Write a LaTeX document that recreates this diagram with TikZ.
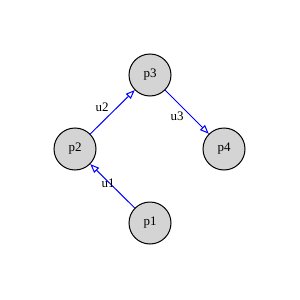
\documentclass[tikz,border=0pt]{standalone}
\usepackage{fontspec}
\setmainfont{Liberation Serif}
\usetikzlibrary{arrows.meta}
\begin{document}
\begin{tikzpicture}[x=1pt,y=-1pt,
  place/.style={circle,draw=black,fill=black!17,line width=1pt,minimum size=42pt,inner sep=0pt,font=\fontsize{13}{15}\selectfont},
  conn/.style={draw=blue,line width=1pt,-{Triangle[open,length=9pt,width=7pt]}},
  lab/.style={font=\fontsize{13}{15}\selectfont,inner sep=0pt}]
\useasboundingbox (0,0) rectangle (300,300);
\node[place] (p3) at (150,75) {p3};
\node[place] (p2) at (75,149) {p2};
\node[place] (p4) at (224,149) {p4};
\node[place] (p1) at (150,223) {p1};
\draw[conn] (p1) -- (p2);
\draw[conn] (p2) -- (p3);
\draw[conn] (p3) -- (p4);
\node[lab] (l1) at (108,183) {u1};
\node[lab] (l2) at (102,107) {u2};
\node[lab] (l3) at (177,116) {u3};
\end{tikzpicture}
\end{document}
